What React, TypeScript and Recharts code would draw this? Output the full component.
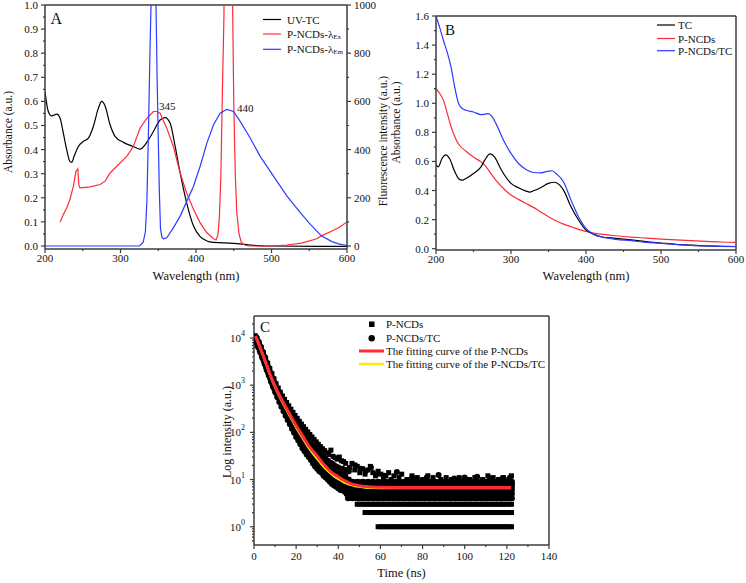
import React from 'react';
import { ComposedChart, Line, Scatter, XAxis, YAxis, ReferenceLine } from 'recharts';

const FONT = '"Liberation Serif", "Times New Roman", serif';
const AX = '#3c3c3c';
const AXW = 1.5;
const RED = '#ff2a36';
const BLUE = '#2a3cff';
const BLACK = '#000000';
const YELLOW = '#f2f000';

// ---------------- Panel A (wavelength, value) ----------------
const uvTc: [number, number][] = [
  [200, 0.64], [204.4, 0.558], [208.8, 0.54], [215.5, 0.547], [220, 0.53], [224.3, 0.468], [228.7, 0.4],
  [233, 0.351], [235.4, 0.347], [238.5, 0.372], [244.2, 0.413], [250.8, 0.434], [257.5, 0.448], [264, 0.496],
  [270.7, 0.572], [275.1, 0.6], [279.6, 0.581], [286.2, 0.503], [292.8, 0.455], [303.9, 0.43], [317, 0.413],
  [326, 0.402], [334.8, 0.43], [343.6, 0.475], [352.4, 0.523], [359, 0.533], [365.7, 0.51], [372.4, 0.413],
  [379, 0.303], [387.6, 0.179], [396.7, 0.083], [405.5, 0.039], [414.4, 0.021], [423.2, 0.015], [449.7, 0.011],
  [471.8, 0.004], [494, 0.0], [600, -0.002],
];
const exSpectrum: [number, number][] = [
  [220, 99], [224.3, 131], [228.7, 158], [233, 193], [237.6, 248], [241, 310], [243.4, 320], [245, 250],
  [246.4, 241], [259.7, 245], [273, 255], [279.6, 269], [286.2, 303], [295, 331], [308.3, 372], [317, 413],
  [326, 489], [334.8, 530], [343.6, 558], [348, 558], [352.4, 551], [361.3, 489], [370, 413], [379, 303],
  [387.6, 220], [396.7, 152], [405.5, 96], [414.4, 55], [423.2, 30], [426.6, 25], [429, 45], [431, 120],
  [433, 300], [435, 650], [437, 950], [439, 2000], [442, 3000], [445, 2500], [447, 1600], [448.5, 1000],
  [450, 600], [452, 300], [454, 140], [457, 50], [460, 15], [465, 3], [470, 0], [500, 0], [520, 4],
  [540, 12], [560, 30], [566, 42], [580, 62], [590, 78], [600, 100],
];
const emSpectrum: [number, number][] = [
  [200, 0], [325, 0], [330, 15], [333, 60], [335, 190], [337, 470], [339, 800], [340.4, 1000], [343, 2500],
  [345, 1800], [347, 1000], [348.5, 700], [350, 450], [351.5, 220], [353, 70], [355, 35], [357, 30],
  [361.3, 34], [370, 75], [379, 124], [396.7, 248], [405.5, 331], [414.4, 427], [423.2, 503], [432, 551],
  [440.9, 567], [449.7, 558], [458.5, 517], [471.8, 448], [485, 372], [502.8, 289], [520.5, 207],
  [538.2, 138], [550, 95], [560, 62], [566, 42], [580, 18], [590, 8], [600, 2],
];

// ---------------- Panel B ----------------
const tcAbs: [number, number][] = [
  [200, 0.58], [203, 0.563], [208, 0.62], [213, 0.645], [218, 0.62], [225, 0.53], [230, 0.483], [235, 0.471],
  [240, 0.483], [250, 0.517], [260, 0.563], [265, 0.609], [272, 0.652], [278, 0.632], [285, 0.563], [290, 0.517],
  [300, 0.449], [310, 0.419], [320, 0.396], [325, 0.389], [330, 0.398], [340, 0.421], [350, 0.449], [358, 0.457],
  [365, 0.437], [370, 0.403], [380, 0.288], [390, 0.197], [400, 0.128], [410, 0.1], [420, 0.082], [440, 0.071],
  [460, 0.06], [480, 0.048], [500, 0.039], [520, 0.03], [540, 0.024], [560, 0.019], [580, 0.016], [600, 0.015],
];
const ncdAbs: [number, number][] = [
  [200, 1.1], [205, 1.067], [210, 1.02], [215, 0.93], [220, 0.84], [225, 0.77], [230, 0.72], [240, 0.67],
  [250, 0.63], [260, 0.597], [265, 0.575], [270, 0.54], [280, 0.47], [290, 0.414], [300, 0.369], [310, 0.339],
  [320, 0.311], [330, 0.284], [340, 0.25], [350, 0.22], [360, 0.192], [370, 0.169], [380, 0.151], [390, 0.133],
  [400, 0.119], [410, 0.108], [420, 0.1], [440, 0.089], [460, 0.08], [480, 0.073], [500, 0.066], [520, 0.06],
  [540, 0.055], [560, 0.05], [580, 0.046], [600, 0.044],
];
const mixAbs: [number, number][] = [
  [200, 1.6], [205, 1.52], [210, 1.43], [215, 1.35], [220, 1.25], [225, 1.11], [230, 1.0], [235, 0.964],
  [240, 0.952], [250, 0.94], [260, 0.922], [265, 0.925], [270, 0.929], [275, 0.906], [280, 0.86], [290, 0.746],
  [300, 0.655], [310, 0.586], [320, 0.545], [330, 0.524], [340, 0.522], [350, 0.533], [355, 0.536], [360, 0.517],
  [370, 0.46], [380, 0.334], [390, 0.22], [400, 0.14], [410, 0.1], [420, 0.082], [440, 0.064], [460, 0.055],
  [480, 0.043], [500, 0.037], [520, 0.029], [540, 0.023], [560, 0.019], [580, 0.016], [600, 0.014],
];

// ---------------- Panel C ----------------
const redFit: [number, number][] = [
  [0.8, 11000], [2, 8000], [4, 4700], [6, 2700], [8, 1550], [10, 950], [12, 620], [14, 420], [16, 290],
  [18, 200], [20, 140], [22, 100], [24, 72], [26, 52], [28, 40], [30, 31.5], [32, 24], [34, 18.8], [36, 15.3],
  [38, 13], [40, 11.5], [42, 10], [44, 9], [46, 8.2], [48, 7.7], [50, 7.4], [53, 7.1], [56, 6.95], [60, 6.85],
  [70, 6.8], [90, 6.8], [122, 6.8],
];
const yellowFit: [number, number][] = [
  [0.8, 10800], [2, 7900], [4, 4600], [6, 2640], [8, 1500], [10, 910], [12, 590], [14, 395], [16, 270],
  [18, 185], [20, 128], [22, 91], [24, 65], [26, 47], [28, 35.5], [30, 27.5], [32, 21.5], [34, 17], [36, 14],
  [38, 11.8], [40, 10.3], [42, 9.1], [44, 8.3], [46, 7.7], [48, 7.3], [52, 6.9], [56, 6.7], [60, 6.65],
  [122, 6.65],
];
// time, then several measured counts at that time
const squareDecay: number[][] = [
  [0.5, 8600, 9600, 10400, 11200], [1.5, 7000, 7800, 8700, 9700], [2.5, 5600, 6300, 7000, 7900],
  [3.5, 4300, 4900, 5500, 6300], [4.5, 3300, 3750, 4250, 4900], [5.5, 2500, 2850, 3250, 3750],
  [6.5, 1900, 2200, 2500, 2900], [7.5, 1450, 1680, 1920, 2250], [8.5, 1100, 1280, 1480, 1750],
  [9.5, 850, 990, 1150, 1360], [10.5, 680, 780, 900, 1070], [11.5, 540, 630, 730, 870],
  [12.5, 440, 510, 590, 710], [13.5, 360, 420, 490, 590], [14.5, 300, 350, 410, 500],
  [15.5, 250, 290, 345, 430], [16.5, 205, 240, 290, 365], [17.5, 170, 200, 245, 310],
  [18.5, 140, 168, 205, 265], [19.5, 118, 142, 175, 228], [20.5, 98, 120, 150, 198],
  [21.5, 82, 102, 128, 172], [22.5, 70, 86, 110, 150], [23.5, 58, 73, 95, 132], [24.5, 50, 63, 82, 116],
  [25.5, 43, 54, 71, 102], [26.5, 37, 47, 62, 90], [27.5, 32, 41, 54, 80], [28.5, 28, 36, 48, 71],
  [29.5, 24, 31, 42, 63], [30.5, 21, 27, 37, 56], [31.5, 19, 24, 33, 50], [32.5, 17, 21, 29, 45],
  [33.5, 15, 19, 26, 41], [34.5, 13, 17, 24, 37], [35.5, 12, 15, 22, 34], [36.5, 11, 14, 20, 42],
  [37.5, 10, 13, 19, 31], [38.5, 9, 12, 17, 29], [39.5, 9, 11, 16, 27], [40.5, 8, 10, 15, 30],
  [41.5, 8, 10, 14, 25], [42.5, 7, 9, 13, 24], [43.5, 7, 9, 12, 22],
];
const circleDecay: number[][] = [
  [1, 8200, 9500, 10500], [2, 6400, 7500, 8500], [3, 4900, 5800, 6700], [4, 3700, 4400, 5200],
  [5, 2800, 3350, 4000], [6, 2100, 2550, 3050], [7, 1600, 1950, 2350], [8, 1200, 1480, 1800],
  [9, 930, 1130, 1380], [10, 720, 880, 1080], [11, 560, 690, 850], [12, 440, 550, 680], [13, 350, 440, 550],
  [14, 280, 355, 400, 450], [15, 225, 290, 330, 370], [16, 182, 235, 270, 305], [17, 148, 192, 222, 255],
  [18, 120, 158, 185, 215], [19, 98, 130, 152, 180], [20, 80, 108, 128, 152], [21, 67, 90, 108, 130],
  [22, 56, 76, 92, 112], [23, 46, 64, 79, 98], [24, 40, 54, 68, 85], [25, 34, 46, 58, 75], [26, 30, 40, 51, 66],
  [27, 26, 35, 45, 58], [28, 22, 30, 40, 52], [29, 19, 26, 35, 46], [30, 17, 23, 31, 41], [31, 15, 20, 27, 37],
  [32, 14, 18, 25, 33], [33, 12, 16, 22, 30], [34, 11, 14.5, 20, 27], [35, 10, 13, 18, 25], [36, 9, 12, 16, 23],
  [37, 8, 11, 15, 22], [38, 7.5, 10, 14, 20], [39, 7, 9.5, 13, 19], [40, 6.5, 9, 12, 18], [41, 6, 8.5, 11.5, 17],
  [42, 6, 8, 11, 17], [43, 5.5, 7.5, 10.5, 16], [44, 5, 7, 10, 16], [45, 5, 7, 10, 15],
];
const tailTimes = [
  44.0, 45.3, 46.5, 47.8, 49.0, 50.2, 51.5, 52.7, 54.0, 55.2, 56.4, 57.7, 58.9, 60.2, 61.4, 62.6, 63.9, 65.1,
  66.4, 67.6, 68.8, 70.1, 71.3, 72.6, 73.8, 75.0, 76.3, 77.5, 78.8, 80.0, 81.2, 82.5, 83.7, 85.0, 86.2, 87.4,
  88.7, 89.9, 91.2, 92.4, 93.6, 94.9, 96.1, 97.4, 98.6, 99.8, 101.1, 102.3, 103.6, 104.8, 106.0, 107.3, 108.5,
  109.8, 111.0, 112.2, 113.5, 114.7, 116.0, 117.2, 118.4, 119.7, 120.9, 122.2,
];
const squareRowCounts = [1, 2, 3, 4, 5, 6, 7, 8];
const squareRowFrom = [58.9, 52.7, 49.0, 46.5, 44.0, 44.0, 44.0, 45.3];
const squareRow9Times = [
  46.5, 49.0, 51.5, 54.0, 56.4, 58.9, 61.4, 63.9, 66.4, 68.8, 71.3, 73.8, 76.3, 78.8, 81.2, 83.7, 86.2, 88.7,
  91.2, 93.6, 96.1, 98.6, 101.1, 103.6, 106.0, 108.5, 111.0, 113.5, 116.0, 118.4, 120.9,
];
const squareHigh: [number, number][] = [
  [45.3, 18], [46.5, 22], [47.8, 16], [49.0, 19], [50.2, 14], [51.5, 17], [52.7, 13], [54.0, 16], [55.2, 19],
  [56.4, 14], [57.7, 12], [58.9, 15], [60.2, 13], [61.4, 11], [62.6, 12], [63.9, 14], [65.1, 10], [66.4, 12],
  [68.8, 11], [70.1, 13], [72.6, 10], [75.0, 12], [77.5, 11], [80.0, 10], [82.5, 12], [85.0, 11], [88.7, 10],
  [91.2, 11], [93.6, 10], [97.4, 11], [99.8, 10], [102.3, 10], [104.8, 11], [108.5, 10], [111.0, 12],
  [113.5, 11], [116.0, 10], [118.4, 11], [120.9, 10], [122.2, 12],
];
const circleTailTimes = [
  44.6, 46.8, 49.2, 51.6, 54.1, 56.5, 59.0, 61.4, 63.8, 66.3, 68.7, 71.2, 73.6, 76.0, 78.5, 80.9, 83.4, 85.8,
  88.2, 90.7, 93.1, 95.6, 98.0, 100.4, 102.9, 105.3, 107.8, 110.2, 112.6, 115.1, 117.5, 120.0, 122.4,
];
const circleRowCounts = [4, 5, 6, 7, 8, 9];
const circleHigh: [number, number][] = [
  [48.0, 20], [50.5, 17], [53.0, 15], [55.5, 18], [58.0, 13], [62.0, 12], [67.8, 14.5], [75.0, 11], [82.0, 11],
  [87.6, 12.5], [95.0, 10.5], [100.0, 11], [105.9, 11.5], [112.0, 10.5], [118.0, 10.8], [121.5, 11],
];

// ---------------- Ticks ----------------
const wlTicks = [200, 250, 300, 350, 400, 450, 500, 550, 600];
const absTicksA = [0, 0.05, 0.1, 0.15, 0.2, 0.25, 0.3, 0.35, 0.4, 0.45, 0.5, 0.55, 0.6, 0.65, 0.7, 0.75, 0.8, 0.85, 0.9, 0.95, 1.0];
const flTicks = [0, 100, 200, 300, 400, 500, 600, 700, 800, 900, 1000];
const absTicksB = [0, 0.1, 0.2, 0.3, 0.4, 0.5, 0.6, 0.7, 0.8, 0.9, 1.0, 1.1, 1.2, 1.3, 1.4, 1.5, 1.6];
const timeTicks = [0, 10, 20, 30, 40, 50, 60, 70, 80, 90, 100, 110, 120, 130, 140];
const logTicks = [
  0.5, 0.6, 0.7, 0.8, 0.9, 1, 2, 3, 4, 5, 6, 7, 8, 9, 10, 20, 30, 40, 50, 60, 70, 80, 90, 100, 200, 300, 400,
  500, 600, 700, 800, 900, 1000, 2000, 3000, 4000, 5000, 6000, 7000, 8000, 9000, 10000, 20000,
];

const toXY = (arr: [number, number][]) => arr.map(([x, y]) => ({ x, y }));
const toTV = (arr: [number, number][]) => arr.map(([t, v]) => ({ t, v }));

const squarePts = [
  ...squareDecay.flatMap(([t, ...vs]) => vs.map((v) => ({ t, v }))),
  ...squareRowCounts.flatMap((c, i) => tailTimes.filter((t) => t >= squareRowFrom[i]).map((t) => ({ t, v: c }))),
  ...squareRow9Times.map((t) => ({ t, v: 9 })),
  ...toTV(squareHigh),
];
const circlePts = [
  ...circleDecay.flatMap(([t, ...vs]) => vs.map((v) => ({ t, v }))),
  ...circleRowCounts.flatMap((c) => circleTailTimes.map((t) => ({ t, v: c }))),
  ...toTV(circleHigh),
];

const tStyle = { fontFamily: FONT, fontSize: 11, fill: '#111' };

type Orient = 'left' | 'right' | 'bottom';
function makeTick(
  orient: Orient,
  isMajor: (v: number) => boolean,
  fmt: (v: number) => React.ReactNode,
  gap: number,
) {
  return (props: any) => {
    const { x, y, payload } = props;
    const v = payload.value as number;
    const major = isMajor(v);
    const len = major ? 4 : 2;
    if (orient === 'left') {
      return (
        <g>
          <line x1={x - len} x2={x} y1={y} y2={y} stroke={AX} strokeWidth={1.2} />
          {major && (
            <text x={x - len - gap} y={y} textAnchor="end" dominantBaseline="central" style={tStyle}>
              {fmt(v)}
            </text>
          )}
        </g>
      );
    }
    if (orient === 'right') {
      return (
        <g>
          <line x1={x} x2={x + len} y1={y} y2={y} stroke={AX} strokeWidth={1.2} />
          {major && (
            <text x={x + len + gap} y={y} textAnchor="start" dominantBaseline="central" style={tStyle}>
              {fmt(v)}
            </text>
          )}
        </g>
      );
    }
    return (
      <g>
        <line x1={x} x2={x} y1={y} y2={y + len} stroke={AX} strokeWidth={1.2} />
        {major && (
          <text x={x} y={y + gap} textAnchor="middle" dominantBaseline="central" style={tStyle}>
            {fmt(v)}
          </text>
        )}
      </g>
    );
  };
}

const near = (a: number, b: number) => Math.abs(a - b) < 1e-6;
const isMult = (step: number) => (v: number) => near(v / step, Math.round(v / step));
const isDecade = (v: number) => near(Math.log10(v), Math.round(Math.log10(v)));
const fmt1 = (v: number) => v.toFixed(1);
const fmtInt = (v: number) => String(v);
const fmtPow = (v: number) => (
  <>
    <tspan>10</tspan>
    <tspan dy={-5} fontSize={8}>{Math.round(Math.log10(v))}</tspan>
  </>
);

const axisLine = { stroke: AX, strokeWidth: AXW };

function PanelA() {
  return (
    <ComposedChart width={390} height={290} margin={{ top: 5, right: 19, bottom: 11, left: 5 }}>
      <XAxis
        type="number" dataKey="x" domain={[200, 600]} ticks={wlTicks} interval={0}
        tickSize={0} tickMargin={0} tickLine={false} axisLine={axisLine} height={30}
        tick={makeTick('bottom', isMult(100), fmtInt, 9)} allowDataOverflow
      />
      <YAxis
        yAxisId="abs" type="number" domain={[-0.0125, 1]} ticks={absTicksA} interval={0}
        tickSize={0} tickMargin={0} tickLine={false} axisLine={axisLine} width={40}
        tick={makeTick('left', isMult(0.1), fmt1, 3)} allowDataOverflow
      />
      <YAxis
        yAxisId="fl" orientation="right" type="number" domain={[-12.5, 1000]} ticks={flTicks} interval={0}
        tickSize={0} tickMargin={0} tickLine={false} axisLine={axisLine} width={24}
        tick={makeTick('right', isMult(200), fmtInt, 3)} allowDataOverflow
      />
      <ReferenceLine yAxisId="abs" y={1} stroke={AX} strokeWidth={AXW} />
      <Line yAxisId="abs" data={toXY(uvTc)} dataKey="y" type="monotone" stroke={BLACK} strokeWidth={1.2} dot={false} activeDot={false} isAnimationActive={false} />
      <Line yAxisId="fl" data={toXY(exSpectrum)} dataKey="y" type="linear" stroke={RED} strokeWidth={1.2} dot={false} activeDot={false} isAnimationActive={false} />
      <Line yAxisId="fl" data={toXY(emSpectrum)} dataKey="y" type="linear" stroke={BLUE} strokeWidth={1.2} dot={false} activeDot={false} isAnimationActive={false} />
    </ComposedChart>
  );
}

function PanelB() {
  return (
    <ComposedChart width={373} height={290} margin={{ top: 16, right: 10, bottom: 10, left: 23 }}>
      <XAxis
        type="number" dataKey="x" domain={[200, 600]} ticks={wlTicks} interval={0}
        tickSize={0} tickMargin={0} tickLine={false} axisLine={axisLine} height={30}
        tick={makeTick('bottom', isMult(100), fmtInt, 9)} allowDataOverflow
      />
      <YAxis
        type="number" domain={[-0.009, 1.6]} ticks={absTicksB} interval={0}
        tickSize={0} tickMargin={0} tickLine={false} axisLine={axisLine} width={40}
        tick={makeTick('left', isMult(0.2), fmt1, 3)} allowDataOverflow
      />
      <ReferenceLine y={1.6} stroke={AX} strokeWidth={AXW} />
      <ReferenceLine x={600} stroke={AX} strokeWidth={AXW} />
      <Line data={toXY(ncdAbs)} dataKey="y" type="monotone" stroke={RED} strokeWidth={1.2} dot={false} activeDot={false} isAnimationActive={false} />
      <Line data={toXY(tcAbs)} dataKey="y" type="monotone" stroke={BLACK} strokeWidth={1.2} dot={false} activeDot={false} isAnimationActive={false} />
      <Line data={toXY(mixAbs)} dataKey="y" type="monotone" stroke={BLUE} strokeWidth={1.2} dot={false} activeDot={false} isAnimationActive={false} />
    </ComposedChart>
  );
}

const squareShape = (p: any) => <rect x={p.cx - 2.5} y={p.cy - 2.5} width={5} height={5} fill="#000" />;
const circleShape = (p: any) => <circle cx={p.cx} cy={p.cy} r={3} fill="#000" />;

const C_MARGIN = { top: 21, right: 31, bottom: 8, left: 14 };

function PanelC() {
  return (
    <ComposedChart width={380} height={288} margin={C_MARGIN}>
      <XAxis
        type="number" dataKey="t" domain={[0, 140]} ticks={timeTicks} interval={0}
        tickSize={0} tickMargin={0} tickLine={false} axisLine={axisLine} height={30}
        tick={makeTick('bottom', isMult(20), fmtInt, 11)} allowDataOverflow
      />
      <YAxis
        type="number" dataKey="v" scale="log" domain={[0.41, 29250]} ticks={logTicks} interval={0}
        tickSize={0} tickMargin={0} tickLine={false} axisLine={axisLine} width={40}
        tick={makeTick('left', isDecade, fmtPow, 5)} allowDataOverflow
      />
      <ReferenceLine y={29250} stroke={AX} strokeWidth={AXW} />
      <ReferenceLine x={140} stroke={AX} strokeWidth={AXW} />
      <Scatter data={squarePts} shape={squareShape} isAnimationActive={false} />
      <Scatter data={circlePts} shape={circleShape} isAnimationActive={false} />
    </ComposedChart>
  );
}

// Fitted curves drawn in a second, identically laid-out chart stacked above the scatter
function PanelCFits() {
  return (
    <ComposedChart width={380} height={288} margin={C_MARGIN}>
      <XAxis
        type="number" dataKey="t" domain={[0, 140]} ticks={timeTicks}
        tick={false} tickLine={false} axisLine={false} height={30} allowDataOverflow
      />
      <YAxis
        type="number" dataKey="v" scale="log" domain={[0.41, 29250]} ticks={logTicks}
        tick={false} tickLine={false} axisLine={false} width={40} allowDataOverflow
      />
      <Line data={toTV(yellowFit)} dataKey="v" type="monotone" stroke={YELLOW} strokeWidth={2.5} dot={false} activeDot={false} isAnimationActive={false} />
      <Line data={toTV(redFit)} dataKey="v" type="monotone" stroke={RED} strokeWidth={3} dot={false} activeDot={false} isAnimationActive={false} />
    </ComposedChart>
  );
}

const txt = { fontFamily: FONT, fill: '#111' } as const;

function Overlay() {
  return (
    <svg width={746} height={583} style={{ position: 'absolute', left: 0, top: 0, pointerEvents: 'none' }}>
      {/* Panel A */}
      <text x={50.5} y={24} fontSize={16} style={txt}>A</text>
      <text x={159} y={110} fontSize={11} style={txt}>345</text>
      <text x={237} y={112} fontSize={11} style={txt}>440</text>
      <line x1={263} x2={281} y1={19.5} y2={19.5} stroke={BLACK} strokeWidth={1.2} />
      <line x1={263} x2={281} y1={34} y2={34} stroke={RED} strokeWidth={1.2} />
      <line x1={263} x2={281} y1={49.3} y2={49.3} stroke={BLUE} strokeWidth={1.2} />
      <text x={287} y={19.5} fontSize={11} dominantBaseline="central" style={txt}>UV-TC</text>
      <text x={287} y={34} fontSize={11} dominantBaseline="central" style={txt}>
        P-NCDs-λ<tspan fontSize={7} dy={3}>Ex</tspan>
      </text>
      <text x={287} y={49.3} fontSize={11} dominantBaseline="central" style={txt}>
        P-NCDs-λ<tspan fontSize={7} dy={3}>Em</tspan>
      </text>
      <text x={8} y={132} fontSize={11.5} textAnchor="middle" dominantBaseline="central" transform="rotate(-90 8 132)" style={txt}>Absorbance (a.u.)</text>
      <text x={382.5} y={141} fontSize={11.5} textAnchor="middle" dominantBaseline="central" transform="rotate(-90 382.5 141)" style={txt}>Fluorescence intensity (a.u.)</text>
      <text x={196} y={280} fontSize={12.5} textAnchor="middle" style={txt}>Wavelength (nm)</text>

      {/* Panel B */}
      <text x={445} y={35} fontSize={15} style={txt}>B</text>
      <text x={396} y={122.5} fontSize={11.5} textAnchor="middle" dominantBaseline="central" transform="rotate(-90 396 122.5)" style={txt}>Absorbance (a.u.)</text>
      <text x={586} y={280} fontSize={12.5} textAnchor="middle" style={txt}>Wavelength (nm)</text>
      <line x1={657} x2={675} y1={25} y2={25} stroke={BLACK} strokeWidth={1.2} />
      <line x1={657} x2={675} y1={38.5} y2={38.5} stroke={RED} strokeWidth={1.2} />
      <line x1={657} x2={675} y1={50.7} y2={50.7} stroke={BLUE} strokeWidth={1.2} />
      <text x={678} y={25} fontSize={11} dominantBaseline="central" style={txt}>TC</text>
      <text x={678} y={38.5} fontSize={11} dominantBaseline="central" style={txt}>P-NCDs</text>
      <text x={678} y={50.7} fontSize={11} dominantBaseline="central" style={txt}>P-NCDs/TC</text>

      {/* Panel C */}
      <text x={260} y={332} fontSize={15} style={txt}>C</text>
      <text x={226.5} y={432} fontSize={12} textAnchor="middle" dominantBaseline="central" transform="rotate(-90 226.5 432)" style={txt}>Log intensity (a.u.)</text>
      <text x={401.5} y={577} fontSize={12.5} textAnchor="middle" style={txt}>Time (ns)</text>
      <rect x={369} y={321.5} width={5.5} height={5.5} fill="#000" />
      <circle cx={371.7} cy={338.3} r={3.2} fill="#000" />
      <line x1={359} x2={384} y1={351} y2={351} stroke={RED} strokeWidth={3} />
      <line x1={359} x2={384} y1={364} y2={364} stroke={YELLOW} strokeWidth={2.5} />
      <text x={386} y={324.3} fontSize={11} dominantBaseline="central" style={txt}>P-NCDs</text>
      <text x={386} y={338.3} fontSize={11} dominantBaseline="central" style={txt}>P-NCDs/TC</text>
      <text x={386} y={351} fontSize={11} dominantBaseline="central" style={txt}>The fitting curve of the P-NCDs</text>
      <text x={386} y={364} fontSize={11} dominantBaseline="central" style={txt}>The fitting curve of the P-NCDs/TC</text>
    </svg>
  );
}

export default function App() {
  return (
    <div style={{ position: 'absolute', left: 0, top: 0, width: 746, height: 583, background: '#fff', overflow: 'hidden' }}>
      <div style={{ position: 'absolute', left: 0, top: 0 }}><PanelA /></div>
      <div style={{ position: 'absolute', left: 373, top: 0 }}><PanelB /></div>
      <div style={{ position: 'absolute', left: 200, top: 295 }}><PanelC /></div>
      <div style={{ position: 'absolute', left: 200, top: 295 }}><PanelCFits /></div>
      <Overlay />
    </div>
  );
}
